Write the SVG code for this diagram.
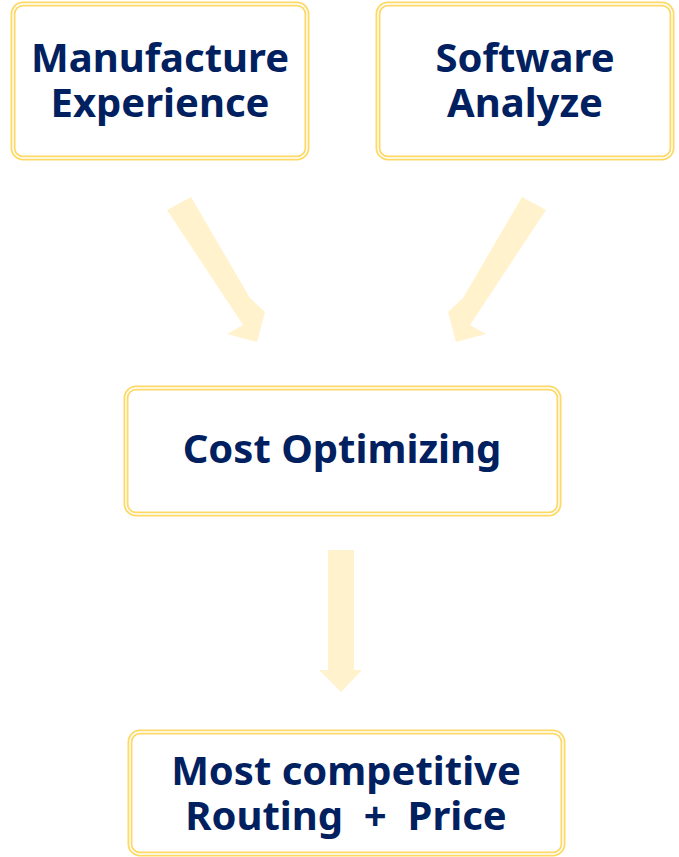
<svg xmlns="http://www.w3.org/2000/svg" width="679" height="857" viewBox="0 0 679 857">
<style>
.box{fill:#fff;stroke:#FFD966;stroke-width:5}
.gap{fill:none;stroke:#fff;stroke-width:1.4}
.t{font-family:"Noto Sans","Open Sans",sans-serif;font-weight:bold;font-size:40px;fill:#002060;text-anchor:middle}
.arrow{fill:#FFF2CC}
</style>
<rect width="679" height="857" fill="#fff"/>
<g id="connectors">
<polygon class="arrow" points="167,210 191,197 250,298 265,312 257,342 227,334 243,325"/>
<polygon class="arrow" points="546,210 522,197 463,298 448,312 456,342 486,334 470,325"/>
<polygon class="arrow" points="328,550 354,550 354,670 362,670 341,692 319,670 328,670"/>
</g>
<g id="manufacture">
<rect class="box" x="13" y="4" width="294" height="154" rx="10"/>
<rect class="gap" x="13" y="4" width="294" height="154" rx="10"/>
<text class="t" x="160" y="72">Manufacture</text>
<text class="t" x="160" y="117">Experience</text>
</g>
<g id="software">
<rect class="box" x="378" y="4" width="294" height="154" rx="10"/>
<rect class="gap" x="378" y="4" width="294" height="154" rx="10"/>
<text class="t" x="525" y="72">Software</text>
<text class="t" x="525" y="117">Analyze</text>
</g>
<g id="cost">
<rect class="box" x="126" y="388" width="433" height="126" rx="10"/>
<rect class="gap" x="126" y="388" width="433" height="126" rx="10"/>
<text class="t" x="342" y="463">Cost Optimizing</text>
</g>
<g id="result">
<rect class="box" x="130" y="732" width="433" height="122" rx="10"/>
<rect class="gap" x="130" y="732" width="433" height="122" rx="10"/>
<text class="t" x="346" y="785">Most competitive</text>
<text class="t" x="346" y="830" style="white-space:pre">Routing  +  Price</text>
</g>
</svg>
